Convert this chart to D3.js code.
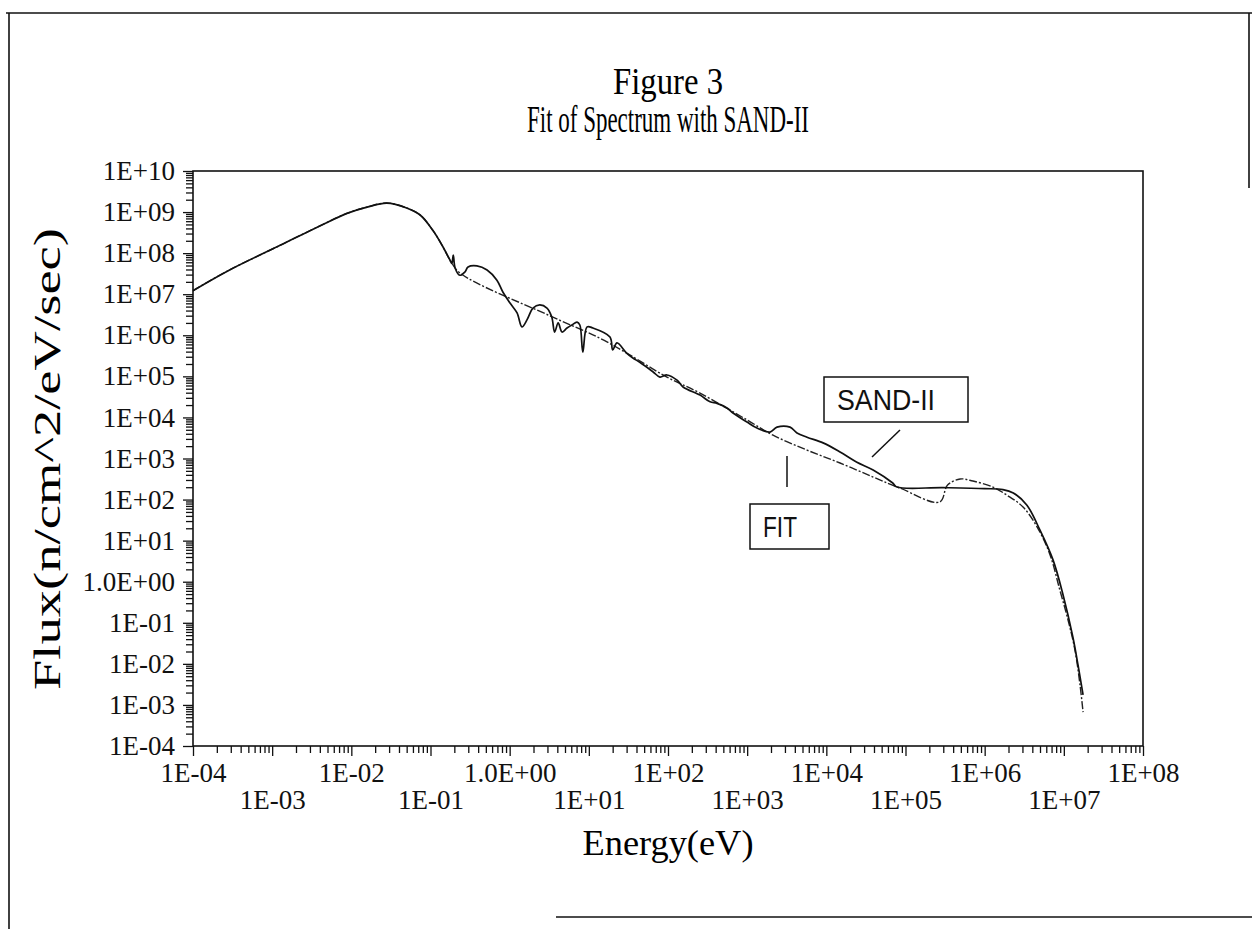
<!DOCTYPE html>
<html>
<head>
<meta charset="utf-8">
<script src="https://cdn.jsdelivr.net/npm/d3@7"></script>
<style>
  body { margin: 0; background: #fff; }
  svg { display: block; }
</style>
</head>
<body>
<svg id="chart" width="1252" height="929"></svg>
<script>
// ---- data (energy in eV, flux in n/cm^2/eV/sec) ----
// thermal region, both curves lie on top of each other
const thermalE    = [1e-4, 2.9e-4, 1.26e-3, 4.0e-3, 8.8e-3, 1.58e-2, 2.8e-2, 5.0e-2, 7.4e-2, 0.107, 0.144];
const thermalFlux = [1.22e7, 3.9e7, 1.55e8, 4.6e8, 9.3e8, 1.32e9, 1.66e9, 1.26e9, 8.5e8, 3.6e8, 1.41e8];

// SAND-II unfolded spectrum (resonance structure, flat piece above 100 keV)
const sandE = [0.176, 0.186, 0.194, 0.205, 0.235, 0.273, 0.298, 0.386, 0.518, 0.69, 0.82, 1.01, 1.24, 1.43,
  1.66, 1.97, 2.4, 2.96, 3.4, 3.7, 4.1, 4.6, 5.3, 6.1, 7.1, 7.7, 8.4, 9.5, 11.3, 18.5, 20, 22.7, 30, 36, 44,
  65, 79, 97, 130, 155, 254, 340, 416, 556, 662, 995, 1330, 1940, 2380, 3480, 4260, 5700, 9100, 1.49e4,
  2.4e4, 3.9e4, 6.9e4, 7.8e4, 3e5, 1e6, 1.7e6, 2.3e6, 3.4e6, 5.0e6, 7.3e6, 9.8e6, 1.30e7, 1.51e7, 1.75e7];
const sandFlux = [6.8e7, 5.6e7, 9.0e7, 4.3e7, 2.9e7, 3.5e7, 4.6e7, 4.9e7, 3.9e7, 2.2e7, 1.13e7, 6.1e6, 3.5e6, 1.6e6,
  2.4e6, 4.6e6, 5.5e6, 4.6e6, 2.8e6, 1.2e6, 2.0e6, 1.2e6, 1.5e6, 1.78e6, 2.1e6, 1.78e6, 3.9e5, 1.6e6, 1.5e6, 9.1e5, 4.4e5, 6.5e5, 3.7e5, 2.8e5, 2.2e5,
  1.28e5, 9.6e4, 1.08e5, 8.1e4, 5.5e4, 3.5e4, 2.4e4, 2.2e4, 1.7e4, 1.28e4, 7.7e3, 5.5e3, 4.4e3, 5.8e3, 5.8e3, 4.2e3, 3.3e3, 2.4e3, 1.44e3,
  820, 525, 253, 202, 195, 185, 175, 145, 74, 18, 3.4, 0.47, 0.045, 9.4e-3, 1.75e-3];

// smooth fit (1/E slope, then fission bump)
const fitE = [0.176, 0.235, 3.2, 13.8, 36, 97, 254, 995, 2120, 5700, 1.49e4, 3.9e4, 8.5e4, 2.7e5, 3.4e5,
  4.9e5, 7.1e5, 1.27e6, 1.9e6, 3.05e6, 4.7e6, 6.7e6, 8.9e6, 1.13e7, 1.38e7, 1.6e7, 1.75e7];
const fitFlux = [6.8e7, 3.3e7, 3.0e6, 8.5e5, 3.0e5, 9.6e4, 3.9e4, 8.7e3, 3.7e3, 1.6e3, 776, 354, 191, 87, 226,
  317, 283, 202, 129, 66, 20, 4.5, 0.63, 0.117, 0.022, 3.1e-3, 6.7e-4];

// axis ticks
const xTickValues = [1e-4, 1e-3, 1e-2, 1e-1, 1e0, 1e1, 1e2, 1e3, 1e4, 1e5, 1e6, 1e7, 1e8];
const xTickLabels = ["1E-04", "1E-03", "1E-02", "1E-01", "1.0E+00", "1E+01", "1E+02", "1E+03", "1E+04", "1E+05", "1E+06", "1E+07", "1E+08"];
const yTickValues = [1e-4, 1e-3, 1e-2, 1e-1, 1e0, 1e1, 1e2, 1e3, 1e4, 1e5, 1e6, 1e7, 1e8, 1e9, 1e10];
const yTickLabels = ["1E-04", "1E-03", "1E-02", "1E-01", "1.0E+00", "1E+01", "1E+02", "1E+03", "1E+04", "1E+05", "1E+06", "1E+07", "1E+08", "1E+09", "1E+10"];

// ---- layout ----
const svg = d3.select("#chart");
const plot = { left: 193, right: 1143, top: 171, bottom: 746 };
const serif = "'Liberation Serif', 'Times New Roman', serif";
const sans = "'Liberation Sans', Arial, sans-serif";

const x = d3.scaleLog().domain([1e-4, 1e8]).range([plot.left, plot.right]);
const y = d3.scaleLog().domain([1e-4, 1e10]).range([plot.bottom, plot.top]);

// scanned page border (partial, like the original)
const border = svg.append("g").attr("stroke", "#111").attr("stroke-width", 1.6);
border.append("line").attr("x1", 6).attr("y1", 13).attr("x2", 1252).attr("y2", 13);
border.append("line").attr("x1", 9).attr("y1", 13).attr("x2", 9).attr("y2", 929);
border.append("line").attr("x1", 1249).attr("y1", 13).attr("x2", 1249).attr("y2", 188);
border.append("line").attr("x1", 556).attr("y1", 917).attr("x2", 1252).attr("y2", 917);

// title
svg.append("text")
    .attr("x", 668).attr("y", 94)
    .attr("text-anchor", "middle")
    .attr("font-family", serif).attr("font-size", 37)
    .attr("textLength", 110).attr("lengthAdjust", "spacingAndGlyphs")
    .text("Figure 3");
svg.append("text")
    .attr("x", 668).attr("y", 132)
    .attr("text-anchor", "middle")
    .attr("font-family", serif).attr("font-size", 37)
    .attr("textLength", 282).attr("lengthAdjust", "spacingAndGlyphs")
    .text("Fit of Spectrum with SAND-II");

// minor ticks
const minorX = d3.range(-4, 8).flatMap(p => d3.range(2, 10).map(k => k * Math.pow(10, p)));
const minorY = d3.range(-4, 10).flatMap(p => d3.range(2, 10).map(k => k * Math.pow(10, p)));

const gxMinor = svg.append("g").attr("transform", `translate(0,${plot.bottom})`)
    .call(d3.axisBottom(x).tickValues(minorX).tickSize(7).tickFormat(""));
gxMinor.select(".domain").remove();

const gyMinor = svg.append("g").attr("transform", `translate(${plot.left},0)`)
    .call(d3.axisLeft(y).tickValues(minorY).tickSize(7).tickFormat(""));
gyMinor.select(".domain").remove();

// major ticks + labels
const gx = svg.append("g").attr("transform", `translate(0,${plot.bottom})`)
    .call(d3.axisBottom(x).tickValues(xTickValues).tickSize(10).tickFormat((d, i) => xTickLabels[i]));
gx.select(".domain").remove();
gx.selectAll("text")
    .attr("y", (d, i) => i % 2 === 0 ? 36 : 63)
    .attr("dy", 0)
    .attr("font-family", serif).attr("font-size", 27).attr("fill", "#111");

const gy = svg.append("g").attr("transform", `translate(${plot.left},0)`)
    .call(d3.axisLeft(y).tickValues(yTickValues).tickSize(10).tickPadding(8).tickFormat((d, i) => yTickLabels[i]));
gy.select(".domain").remove();
gy.selectAll("text")
    .attr("font-family", serif).attr("font-size", 27).attr("fill", "#111");

svg.selectAll(".tick line").attr("stroke", "#111").attr("stroke-width", 1.3);

// plot frame
svg.append("rect")
    .attr("x", plot.left).attr("y", plot.top)
    .attr("width", plot.right - plot.left).attr("height", plot.bottom - plot.top)
    .attr("fill", "none").attr("stroke", "#111").attr("stroke-width", 1.6);

// axis titles
svg.append("text")
    .attr("transform", "translate(60,459) rotate(-90)")
    .attr("text-anchor", "middle")
    .attr("font-family", serif).attr("font-size", 38)
    .attr("textLength", 462).attr("lengthAdjust", "spacingAndGlyphs")
    .text("Flux(n/cm^2/eV/sec)");
svg.append("text")
    .attr("x", 668).attr("y", 855)
    .attr("text-anchor", "middle")
    .attr("font-family", serif).attr("font-size", 36)
    .attr("textLength", 171).attr("lengthAdjust", "spacingAndGlyphs")
    .text("Energy(eV)");

// curves
const line = d3.line()
    .x(d => x(d[0]))
    .y(d => y(d[1]))
    .curve(d3.curveCatmullRom.alpha(0.5));

const fitPts = d3.zip(thermalE.concat(fitE), thermalFlux.concat(fitFlux));
const sandPts = d3.zip(thermalE.concat(sandE), thermalFlux.concat(sandFlux));

svg.append("path")
    .datum(fitPts)
    .attr("d", line)
    .attr("fill", "none")
    .attr("stroke", "#222")
    .attr("stroke-width", 1.4)
    .attr("stroke-dasharray", "8,2,2,2");

svg.append("path")
    .datum(sandPts)
    .attr("d", line)
    .attr("fill", "none")
    .attr("stroke", "#111")
    .attr("stroke-width", 1.7);

// labels with pointers
const notes = svg.append("g").attr("stroke", "#111").attr("stroke-width", 1.5);
notes.append("rect").attr("x", 824).attr("y", 377).attr("width", 144).attr("height", 45).attr("fill", "none");
notes.append("line").attr("x1", 872).attr("y1", 457).attr("x2", 900).attr("y2", 430);
notes.append("rect").attr("x", 750).attr("y", 504).attr("width", 79).attr("height", 45).attr("fill", "none");
notes.append("line").attr("x1", 787).attr("y1", 456).attr("x2", 787).attr("y2", 487);

svg.append("text")
    .attr("x", 837).attr("y", 410)
    .attr("font-family", sans).attr("font-size", 29).attr("fill", "#111")
    .attr("textLength", 98).attr("lengthAdjust", "spacingAndGlyphs")
    .text("SAND-II");
svg.append("text")
    .attr("x", 763).attr("y", 537)
    .attr("font-family", sans).attr("font-size", 29).attr("fill", "#111")
    .attr("textLength", 34).attr("lengthAdjust", "spacingAndGlyphs")
    .text("FIT");
</script>
</body>
</html>
